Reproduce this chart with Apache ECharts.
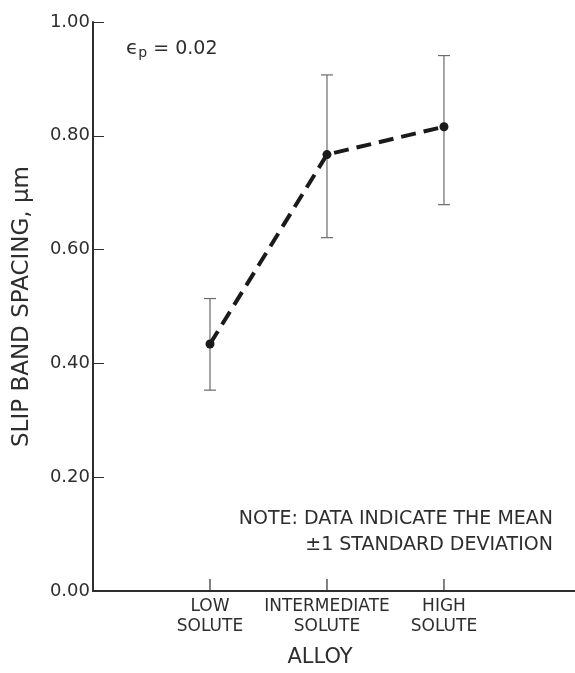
<!DOCTYPE html>
<html>
<head>
<meta charset="utf-8">
<script src="https://cdn.jsdelivr.net/npm/echarts@6/dist/echarts.min.js"></script>
<style>
  html, body { margin: 0; padding: 0; background: #fff; }
  #main { width: 575px; height: 673px; }
</style>
</head>
<body>
<div id="main"></div>
<script>
  'use strict'

  // alloys, placed at x = 1, 2, 3
  var categories = ['LOW\nSOLUTE', 'INTERMEDIATE\nSOLUTE', 'HIGH\nSOLUTE'];
  var xPositions = [1, 2, 3];
  var meanValues = [0.434, 0.767, 0.816];
  var lowerValues = [0.353, 0.621, 0.679];
  var upperValues = [0.514, 0.907, 0.941];
  var noteLines = ['NOTE: DATA INDICATE THE MEAN', '±1 STANDARD DEVIATION'];

  var ink = '#2e2e2e';
  var font = 'DejaVu Sans';

  var meanData = xPositions.map(function (x, i) { return [x, meanValues[i]]; });
  var errData = xPositions.map(function (x, i) { return [x, lowerValues[i], upperValues[i]]; });

  var chart = echarts.init(document.getElementById('main'));

  chart.setOption({
    animation: false,
    backgroundColor: '#fff',
    grid: { left: 93, right: 0, top: 22, bottom: 75 },
    xAxis: {
      type: 'value',
      min: 0,
      max: 4.12,
      interval: 1,
      name: 'ALLOY',
      nameLocation: 'middle',
      nameGap: 56,
      nameTextStyle: { fontFamily: font, fontSize: 21, color: ink, padding: [0, 28, 0, 0] },
      splitLine: { show: false },
      axisLine: { lineStyle: { color: ink, width: 2 } },
      axisTick: { show: false },
      axisLabel: {
        customValues: xPositions,
        margin: 6,
        fontFamily: font, fontSize: 17, color: ink, lineHeight: 20,
        formatter: function (v) { return categories[xPositions.indexOf(v)] || ''; }
      }
    },
    yAxis: {
      type: 'value',
      min: 0,
      max: 1,
      interval: 0.2,
      name: 'SLIP BAND SPACING, μm',
      nameLocation: 'middle',
      nameGap: 59,
      nameRotate: 90,
      nameTextStyle: { fontFamily: font, fontSize: 23, color: ink },
      splitLine: { show: false },
      axisLine: { lineStyle: { color: ink, width: 2 } },
      axisTick: { inside: true, length: 11, lineStyle: { color: ink, width: 1 } },
      axisLabel: {
        margin: 3,
        fontFamily: font, fontSize: 18, color: ink,
        formatter: function (v) { return v.toFixed(2); }
      }
    },
    graphic: [
      {
        type: 'text', left: 126, top: 39,
        style: {
          text: '{e|ϵ}{s|p}{n| = 0.02}',
          rich: {
            e: { fontFamily: font, fontSize: 20, fill: ink },
            s: { fontFamily: font, fontSize: 14, fill: ink, padding: [9, 0, 0, 0] },
            n: { fontFamily: font, fontSize: 19, fill: ink }
          }
        }
      },
      {
        type: 'text', right: 22, top: 510,
        style: { text: noteLines[0], fontFamily: font, fontSize: 19, fill: ink }
      },
      {
        type: 'text', right: 22, top: 536,
        style: { text: noteLines[1], fontFamily: font, fontSize: 19, fill: ink }
      }
    ],
    series: [
      {
        type: 'custom',
        data: errData,
        z: 1,
        clip: false,
        renderItem: function (params, api) {
          var x = api.value(0);
          var lo = api.coord([x, api.value(1)]);
          var hi = api.coord([x, api.value(2)]);
          var base = api.coord([x, 0]);
          var w = 6;
          var st = { stroke: '#6a6a6a', lineWidth: 1.2 };
          return {
            type: 'group',
            children: [
              { type: 'line', shape: { x1: lo[0], y1: lo[1], x2: hi[0], y2: hi[1] }, style: st },
              { type: 'line', shape: { x1: lo[0] - w, y1: lo[1], x2: lo[0] + w, y2: lo[1] }, style: st },
              { type: 'line', shape: { x1: hi[0] - w, y1: hi[1], x2: hi[0] + w, y2: hi[1] }, style: st },
              // category tick on the x axis
              { type: 'line', shape: { x1: base[0], y1: base[1], x2: base[0], y2: base[1] - 12 },
                style: { stroke: ink, lineWidth: 1.2 } }
            ]
          };
        }
      },
      {
        type: 'line',
        data: meanData,
        z: 3,
        symbol: 'circle',
        symbolSize: 9,
        itemStyle: { color: '#1a1a1a' },
        lineStyle: { color: '#1a1a1a', width: 4, type: [15, 8] }
      }
    ]
  });
</script>
</body>
</html>
